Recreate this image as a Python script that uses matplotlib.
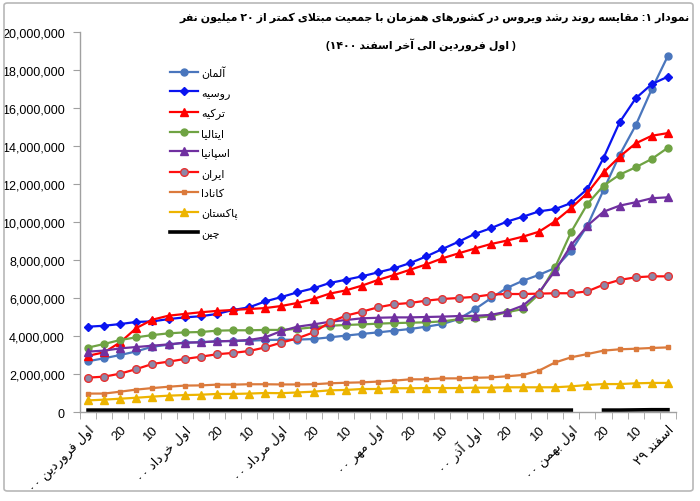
import re
import numpy as np
import matplotlib
matplotlib.use("Agg")
import matplotlib.pyplot as plt
from matplotlib.patches import FancyBboxPatch
from matplotlib.ticker import FuncFormatter

plt.rcParams['font.family'] = ['Liberation Sans', 'DejaVu Sans']

# ---------------- data (millions of cases) ----------------
categories = list(range(37))
tick_labels = ["اول فروردین ۰۰", "20", "10", "اول خرداد ۰۰", "20", "10",
               "اول مرداد ۰۰", "20", "10", "اول مهر ۰۰", "20", "10",
               "اول آذر ۰۰", "20", "10", "اول بهمن ۰۰", "20", "10", "اسفند ۲۹"]

germany = [2.67, 2.83, 3.00, 3.19, 3.44, 3.54, 3.65, 3.67, 3.72, 3.74, 3.75, 3.79, 3.80,
           3.81, 3.84, 3.93, 4.02, 4.11, 4.19, 4.28, 4.37, 4.49, 4.63, 4.89, 5.40,
           5.98, 6.53, 6.91, 7.22, 7.58, 8.49, 9.81, 11.68, 13.53, 15.09, 17.00, 18.75]
russia = [4.49, 4.54, 4.63, 4.74, 4.77, 4.89, 4.98, 5.04, 5.16, 5.37, 5.51, 5.82, 6.05,
          6.30, 6.51, 6.79, 6.96, 7.14, 7.35, 7.56, 7.84, 8.19, 8.58, 8.96, 9.37,
          9.67, 10.02, 10.28, 10.56, 10.68, 11.00, 11.74, 13.37, 15.25, 16.51, 17.26, 17.65]
turkey = [2.96, 3.14, 3.67, 4.42, 4.86, 5.07, 5.16, 5.25, 5.32, 5.37, 5.42, 5.47, 5.58,
          5.74, 5.95, 6.23, 6.40, 6.65, 6.95, 7.21, 7.49, 7.77, 8.09, 8.35, 8.60,
          8.84, 9.02, 9.23, 9.49, 10.04, 10.74, 11.53, 12.61, 13.44, 14.14, 14.54, 14.68]
italy = [3.39, 3.58, 3.79, 3.93, 4.05, 4.14, 4.19, 4.21, 4.28, 4.30, 4.30, 4.32, 4.32,
         4.37, 4.46, 4.54, 4.58, 4.61, 4.65, 4.68, 4.70, 4.72, 4.77, 4.88, 4.95,
         5.04, 5.25, 5.42, 6.21, 7.63, 9.49, 10.95, 11.91, 12.49, 12.88, 13.32, 13.91]
spain = [3.18, 3.23, 3.35, 3.42, 3.49, 3.56, 3.65, 3.67, 3.72, 3.74, 3.79, 3.93, 4.26,
         4.49, 4.61, 4.75, 4.84, 4.93, 4.96, 4.98, 4.98, 5.00, 5.02, 5.05, 5.06,
         5.11, 5.28, 5.60, 6.30, 7.44, 8.79, 9.81, 10.54, 10.86, 11.04, 11.25, 11.30]
iran = [1.81, 1.86, 2.02, 2.26, 2.53, 2.65, 2.79, 2.91, 3.04, 3.11, 3.21, 3.40, 3.65,
        3.88, 4.19, 4.72, 5.07, 5.28, 5.51, 5.67, 5.74, 5.86, 5.95, 6.00, 6.06,
        6.18, 6.21, 6.21, 6.23, 6.25, 6.25, 6.35, 6.70, 6.95, 7.09, 7.14, 7.14]
canada = [0.97, 0.97, 1.07, 1.18, 1.26, 1.33, 1.39, 1.40, 1.44, 1.44, 1.46, 1.46, 1.45,
          1.45, 1.46, 1.51, 1.54, 1.56, 1.60, 1.65, 1.72, 1.72, 1.77, 1.77, 1.80,
          1.82, 1.88, 1.95, 2.18, 2.61, 2.88, 3.05, 3.23, 3.30, 3.33, 3.37, 3.40]
pakistan = [0.61, 0.65, 0.70, 0.75, 0.81, 0.86, 0.89, 0.91, 0.95, 0.95, 0.97, 1.00, 0.99,
            1.03, 1.07, 1.14, 1.16, 1.21, 1.21, 1.25, 1.25, 1.26, 1.26, 1.26, 1.28,
            1.28, 1.30, 1.30, 1.30, 1.30, 1.35, 1.42, 1.47, 1.47, 1.51, 1.53, 1.53]
china = [0.10] * 31 + [np.nan] + [0.10, 0.10, 0.11, 0.12, 0.12]

series_names = ["آلمان", "روسیه", "ترکیه", "ایتالیا", "اسپانیا", "ایران", "کانادا", "پاکستان", "چین"]

title1 = "نمودار ۱: مقایسه روند رشد ویروس در کشورهای همزمان با جمعیت مبتلای کمتر از ۲۰ میلیون نفر"
title2 = "( اول فروردین الی آخر اسفند ۱۴۰۰)"

# ---------------- simple Persian shaping / RTL ordering ----------------
FORMS = {
    'ا': ('\uFE8D', '\uFE8E', None, None),
    'آ': ('\uFE81', '\uFE82', None, None),
    'ب': ('\uFE8F', '\uFE90', '\uFE91', '\uFE92'),
    'پ': ('\uFB56', '\uFB57', '\uFB58', '\uFB59'),
    'ت': ('\uFE95', '\uFE96', '\uFE97', '\uFE98'),
    'ج': ('\uFE9D', '\uFE9E', '\uFE9F', '\uFEA0'),
    'چ': ('\uFB7A', '\uFB7B', '\uFB7C', '\uFB7D'),
    'خ': ('\uFEA5', '\uFEA6', '\uFEA7', '\uFEA8'),
    'د': ('\uFEA9', '\uFEAA', None, None),
    'ذ': ('\uFEAB', '\uFEAC', None, None),
    'ر': ('\uFEAD', '\uFEAE', None, None),
    'ز': ('\uFEAF', '\uFEB0', None, None),
    'س': ('\uFEB1', '\uFEB2', '\uFEB3', '\uFEB4'),
    'ش': ('\uFEB5', '\uFEB6', '\uFEB7', '\uFEB8'),
    'ع': ('\uFEC9', '\uFECA', '\uFECB', '\uFECC'),
    'ف': ('\uFED1', '\uFED2', '\uFED3', '\uFED4'),
    'ق': ('\uFED5', '\uFED6', '\uFED7', '\uFED8'),
    'ک': ('\uFB8E', '\uFB8F', '\uFB90', '\uFB91'),
    'ل': ('\uFEDD', '\uFEDE', '\uFEDF', '\uFEE0'),
    'م': ('\uFEE1', '\uFEE2', '\uFEE3', '\uFEE4'),
    'ن': ('\uFEE5', '\uFEE6', '\uFEE7', '\uFEE8'),
    'و': ('\uFEED', '\uFEEE', None, None),
    'ه': ('\uFEE9', '\uFEEA', '\uFEEB', '\uFEEC'),
    'ی': ('\uFBFC', '\uFBFD', '\uFBFE', '\uFBFF'),
}
LAMALEF = {'ا': ('\uFEFB', '\uFEFC'), 'آ': ('\uFEF5', '\uFEF6')}


def _shape(s):
    s = s.replace('ي', 'ی').replace('ك', 'ک')
    out, i, n = [], 0, len(s)
    def jn(c):
        return c in FORMS and FORMS[c][2] is not None
    while i < n:
        c = s[i]
        if c not in FORMS:
            out.append(c); i += 1; continue
        prev = s[i - 1] if i > 0 else ''
        cp = jn(prev)
        if c == 'ل' and i + 1 < n and s[i + 1] in LAMALEF:
            lig = LAMALEF[s[i + 1]]
            out.append(lig[1] if cp else lig[0]); i += 2; continue
        nxt = s[i + 1] if i + 1 < n else ''
        cn = jn(c) and nxt in FORMS
        iso, fin, ini, med = FORMS[c]
        out.append(med if (cp and cn) else fin if cp else ini if cn else iso)
        i += 1
    return ''.join(out)


def fa(s):
    if not re.search('[\u0600-\u06FF]', s):
        return s
    toks = re.findall(r'[0-9\u06F0-\u06F9]+|.', _shape(s))
    mirror = {'(': ')', ')': '('}
    return ''.join(mirror.get(t, t) for t in reversed(toks))


# ---------------- figure ----------------
fig = plt.figure(figsize=(7.0, 5.02), dpi=100)
W, H = 700, 502
ax = fig.add_axes([80 / W, 1 - 413 / H, (676 - 80) / W, (413 - 33) / H])

styles = [
    dict(color='#4A76BD', marker='o', ms=5, mfc='#4A76BD', mec='#4A76BD'),
    dict(color='#0A14F0', marker='D', ms=4.5, mfc='#0A14F0', mec='#0A14F0'),
    dict(color='#FF0000', marker='^', ms=6, mfc='#FF0000', mec='#FF0000'),
    dict(color='#6FA343', marker='o', ms=5, mfc='#6FA343', mec='#6FA343'),
    dict(color='#7030A0', marker='^', ms=6, mfc='#7030A0', mec='#7030A0'),
    dict(color='#FF1010', marker='o', ms=5.5, mfc='#8C88A8', mec='#E83030', mew=1.0),
    dict(color='#DB7A3C', marker='s', ms=3.5, mfc='#DB7A3C', mec='#DB7A3C'),
    dict(color='#EDB400', marker='^', ms=6, mfc='#EDB400', mec='#EDB400'),
    dict(color='#000000', marker=None, lw=2.6),
]
all_series = [germany, russia, turkey, italy, spain, iran, canada, pakistan, china]

x = np.array(categories)
for name, vals, st in zip(series_names, all_series, styles):
    st = dict(st)
    lw = st.pop('lw', 1.6)
    ax.plot(x, np.array(vals) * 1e6, lw=lw, label=fa(name), **st)

ax.set_xlim(-0.5, 36.5)
ax.set_ylim(0, 20e6)
ax.set_yticks(np.arange(0, 20e6 + 1, 2e6))
ax.yaxis.set_major_formatter(FuncFormatter(lambda v, p: f"{int(round(v)):,}"))
ax.tick_params(axis='y', direction='out', length=5, color='#A0A0A0', labelsize=9, pad=6)

ax.set_xticks(np.arange(0, 37, 2))
ax.set_xticklabels([fa(t) for t in tick_labels], rotation=45, ha='right',
                   rotation_mode='anchor', fontsize=9.5)
ax.set_xticks(np.arange(-0.5, 37, 1), minor=True)
ax.tick_params(axis='x', which='major', length=0, pad=8)
ax.tick_params(axis='x', which='minor', direction='out', length=5, color='#A0A0A0')

for side in ['top', 'right']:
    ax.spines[side].set_visible(False)
for side in ['left', 'bottom']:
    ax.spines[side].set_color('#A0A0A0')
    ax.spines[side].set_linewidth(1.0)

leg = ax.legend(loc='upper left', bbox_to_anchor=(170 / W, 1 - 66 / H),
                bbox_transform=fig.transFigure, frameon=False, fontsize=8,
                handlelength=2.5, handletextpad=0.3, labelspacing=0.84,
                borderaxespad=0, borderpad=0)

fig.text(690 / W, 1 - 18 / H, fa(title1), ha='right', va='center',
         fontsize=7.9, fontweight='bold')
fig.text(421 / W, 1 - 45 / H, fa(title2), ha='center', va='center',
         fontsize=7.9, fontweight='bold')

frame = FancyBboxPatch((4 / W, 1 - 492 / H), (693 - 4) / W, (492 - 4) / H,
                       boxstyle='round,pad=0,rounding_size=0.005',
                       transform=fig.transFigure, fill=False,
                       edgecolor='#B8B8B8', lw=1.2)
fig.patches.append(frame)

fig.savefig('out.png', dpi=100)
